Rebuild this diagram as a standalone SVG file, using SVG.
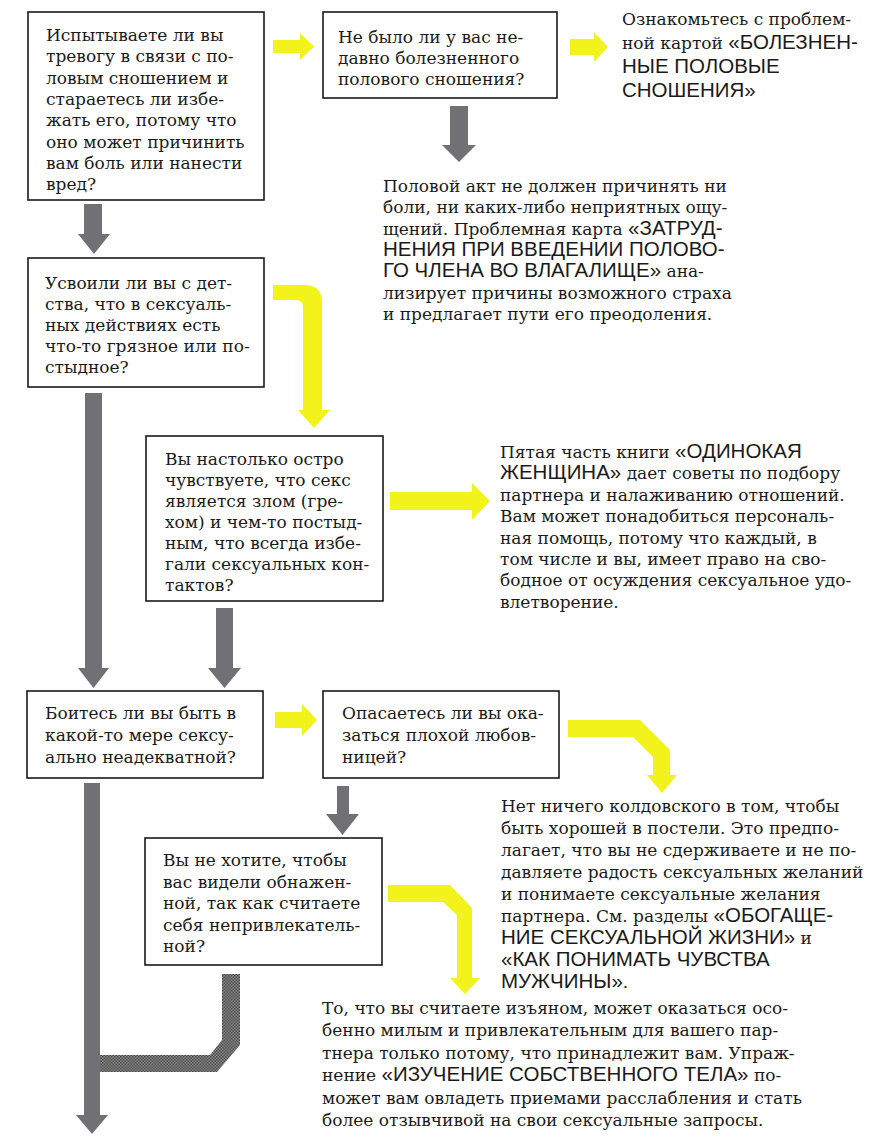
<svg xmlns="http://www.w3.org/2000/svg" width="873" height="1148" viewBox="0 0 873 1148">
<defs>
<style>
.box{fill:#fff;stroke:#1a1a1a;stroke-width:1.6}
.t{font-family:'DejaVu Serif',serif;font-size:17px;fill:#1a1a1a}
.s{font-family:'Liberation Sans',Arial,sans-serif;font-size:20.5px}
.gray{fill:#707075}
.yel{fill:#f3f31c}
</style>
<pattern id="check" width="3" height="3" patternUnits="userSpaceOnUse">
<rect width="3" height="3" fill="#8a8a8a"/>
<rect width="1.5" height="1.5" fill="#4a4a4a"/>
<rect x="1.5" y="1.5" width="1.5" height="1.5" fill="#4a4a4a"/>
</pattern>
</defs>
<rect width="873" height="1148" fill="#fff"/>
<g id="connectors">
<polygon class="gray" points="84,204 102,204 102,234 110,234 94,254 78,234 84,234"/>
<polygon class="gray" points="450,106 468,106 468,145 476,145 459,162 442,145 450,145"/>
<polygon class="gray" points="85,393 102,393 102,668 109,668 93.5,688 78,668 85,668"/>
<polygon class="gray" points="216,608 233,608 233,668 241,668 224.5,688 208,668 216,668"/>
<polygon class="gray" points="84,783 100,783 100,1115 108,1115 92,1134 76,1115 84,1115"/>
<polygon class="gray" points="337,786 349,786 349,814 359,814 342.5,835 326,814 337,814"/>
<polygon fill="url(#check)" points="222,974 240,974 240,1045 217,1072 100,1072 100,1055 210,1055 222,1040"/>
<polygon class="yel" points="273,40 300,40 300,33 314,46.5 300,60 300,53 273,53"/>
<polygon class="yel" points="570,39 594,39 594,32 608,47 594,62 594,55 570,55"/>
<path class="yel" d="M273,285 L306,285 Q322,286 322,302 L322,410 L330,410 L314,428 L298,410 L303,410 L303,308 Q303,300 296,300 L273,300 Z"/>
<polygon class="yel" points="390,492 472,492 472,483 490,501 472,520 472,510 390,510"/>
<polygon class="yel" points="275,712 302,712 302,704 317,720 302,736 302,728 275,728"/>
<polygon class="yel" points="568,720 640,720 670,750 670,775 677,775 662,793 647,775 653,775 653,757 633,737 568,737"/>
<polygon class="yel" points="388,885 450,885 472,908 472,978 480,978 465,994 450,978 457,978 457,915 443,902 388,902"/>
</g>
<g id="q1">
<rect class="box" x="28" y="12" width="236" height="188"/>
<text class="t"><tspan x="46" y="41">Испытываете ли вы</tspan><tspan x="46" y="62.3">тревогу в связи с по-</tspan><tspan x="46" y="83.6">ловым сношением и</tspan><tspan x="46" y="104.9">стараетесь ли избе-</tspan><tspan x="46" y="126.2">жать его, потому что</tspan><tspan x="46" y="147.5">оно может причинить</tspan><tspan x="46" y="168.8">вам боль или нанести</tspan><tspan x="46" y="190.1">вред?</tspan></text>
</g>
<g id="q2">
<rect class="box" x="323" y="12" width="234" height="86"/>
<text class="t"><tspan x="338" y="43">Не было ли у вас не-</tspan><tspan x="338" y="64">давно болезненного</tspan><tspan x="338" y="85">полового сношения?</tspan></text>
</g>
<g id="a1">
<text class="t"><tspan x="622" y="25">Ознакомьтесь с проблем-</tspan><tspan x="622" y="49">ной картой <tspan class="s">«БОЛЕЗНЕН-</tspan></tspan><tspan x="622" y="73" class="s">НЫЕ ПОЛОВЫЕ</tspan><tspan x="622" y="97" class="s">СНОШЕНИЯ»</tspan></text>
</g>
<g id="a2">
<text class="t"><tspan x="383" y="192">Половой акт не должен причинять ни</tspan><tspan x="383" y="213.3">боли, ни каких-либо неприятных ощу-</tspan><tspan x="383" y="234.6">щений. Проблемная карта <tspan class="s">«ЗАТРУД-</tspan></tspan><tspan x="383" y="255.9" class="s">НЕНИЯ ПРИ ВВЕДЕНИИ ПОЛОВО-</tspan><tspan x="383" y="277.2"><tspan class="s">ГО ЧЛЕНА ВО ВЛАГАЛИЩЕ»</tspan> ана-</tspan><tspan x="383" y="298.5">лизирует причины возможного страха</tspan><tspan x="383" y="319.8">и предлагает пути его преодоления.</tspan></text>
</g>
<g id="q3">
<rect class="box" x="28" y="258" width="236" height="129"/>
<text class="t"><tspan x="45" y="289">Усвоили ли вы с дет-</tspan><tspan x="45" y="310">ства,  что в сексуаль-</tspan><tspan x="45" y="331">ных  действиях есть</tspan><tspan x="45" y="352">что-то  грязное или по-</tspan><tspan x="45" y="373">стыдное?</tspan></text>
</g>
<g id="q4">
<rect class="box" x="146" y="436" width="237" height="165"/>
<text class="t"><tspan x="165" y="465">Вы настолько остро</tspan><tspan x="165" y="486">чувствуете, что секс</tspan><tspan x="165" y="507">является злом (гре-</tspan><tspan x="165" y="528">хом) и чем-то постыд-</tspan><tspan x="165" y="549">ным, что всегда избе-</tspan><tspan x="165" y="570">гали сексуальных кон-</tspan><tspan x="165" y="591">тактов?</tspan></text>
</g>
<g id="a3">
<text class="t"><tspan x="500" y="458">Пятая часть книги <tspan class="s">«ОДИНОКАЯ</tspan></tspan><tspan x="500" y="479.4"><tspan class="s">ЖЕНЩИНА»</tspan> дает советы по подбору</tspan><tspan x="500" y="500.8">партнера и налаживанию отношений.</tspan><tspan x="500" y="522.2">Вам может понадобиться персональ-</tspan><tspan x="500" y="543.6">ная помощь, потому что каждый, в</tspan><tspan x="500" y="565">том числе и вы, имеет право на сво-</tspan><tspan x="500" y="586.4">бодное от осуждения сексуальное удо-</tspan><tspan x="500" y="607.8">влетворение.</tspan></text>
</g>
<g id="q5">
<rect class="box" x="27" y="691" width="236" height="87"/>
<text class="t"><tspan x="45" y="719">Боитесь ли вы быть в</tspan><tspan x="45" y="741">какой-то мере сексу-</tspan><tspan x="45" y="763">ально неадекватной?</tspan></text>
</g>
<g id="q6">
<rect class="box" x="323" y="691" width="236" height="87"/>
<text class="t"><tspan x="342" y="719">Опасаетесь ли вы ока-</tspan><tspan x="342" y="741">заться плохой любов-</tspan><tspan x="342" y="763">ницей?</tspan></text>
</g>
<g id="q7">
<rect class="box" x="145" y="838" width="237" height="127"/>
<text class="t"><tspan x="163" y="866">Вы не хотите, чтобы</tspan><tspan x="163" y="887.5">вас видели обнажен-</tspan><tspan x="163" y="909">ной, так как считаете</tspan><tspan x="163" y="930.5">себя непривлекатель-</tspan><tspan x="163" y="952">ной?</tspan></text>
</g>
<g id="a4">
<text class="t"><tspan x="501" y="812">Нет ничего колдовского в том, чтобы</tspan><tspan x="501" y="834">быть хорошей в постели. Это предпо-</tspan><tspan x="501" y="856">лагает, что вы не сдерживаете и не по-</tspan><tspan x="501" y="878">давляете радость сексуальных желаний</tspan><tspan x="501" y="900">и понимаете сексуальные желания</tspan><tspan x="501" y="922">партнера. См. разделы <tspan class="s">«ОБОГАЩЕ-</tspan></tspan><tspan x="501" y="944"><tspan class="s">НИЕ СЕКСУАЛЬНОЙ ЖИЗНИ»</tspan> и</tspan><tspan x="501" y="966" class="s">«КАК ПОНИМАТЬ ЧУВСТВА</tspan><tspan x="501" y="988"><tspan class="s">МУЖЧИНЫ»</tspan>.</tspan></text>
</g>
<g id="a5">
<text class="t"><tspan x="322" y="1014">То, что вы считаете изъяном, может оказаться осо-</tspan><tspan x="322" y="1036.4">бенно милым и привлекательным для вашего пар-</tspan><tspan x="322" y="1058.8">тнера только потому, что принадлежит вам. Упраж-</tspan><tspan x="322" y="1081.2">нение <tspan class="s">«ИЗУЧЕНИЕ СОБСТВЕННОГО ТЕЛА»</tspan> по-</tspan><tspan x="322" y="1103.6">может вам овладеть приемами расслабления и стать</tspan><tspan x="322" y="1126">более отзывчивой на свои сексуальные запросы.</tspan></text>
</g>
</svg>
